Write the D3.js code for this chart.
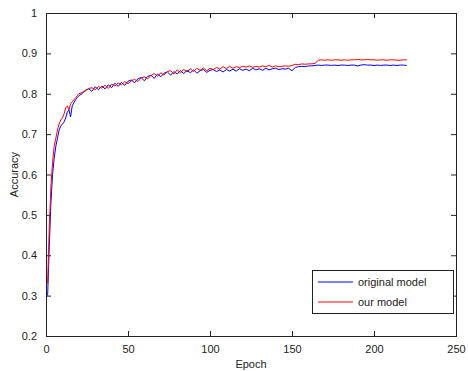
<!DOCTYPE html>
<html>
<head>
<meta charset="utf-8">
<script src="https://cdn.jsdelivr.net/npm/d3@7"></script>
<style>
  body { margin: 0; background: #fff; }
  svg text { font-family: "Liberation Sans", Arial, sans-serif; font-size: 11px; fill: #222; }
</style>
</head>
<body>
<div id="chart"></div>
<script>
// epochs sampled from the figure
const epochs = [
  1, 2, 3, 4, 5, 6, 7, 8, 9, 10, 11, 12, 13, 14, 15, 16, 17, 18, 19, 20,
  22, 24, 26, 28, 30, 32, 34, 36, 38, 40,
  42, 44, 46, 48, 50, 52, 54, 56, 58, 60,
  62, 64, 66, 68, 70, 72, 74, 76, 78, 80,
  82, 84, 86, 88, 90, 92, 94, 96, 98, 100,
  102, 104, 106, 108, 110, 112, 114, 116, 118, 120,
  122, 124, 126, 128, 130, 132, 134, 136, 138, 140,
  142, 144, 146, 148, 150, 152, 154, 156, 158, 160,
  162, 164, 166, 168, 170, 172, 174, 176, 178, 180,
  182, 184, 186, 188, 190, 192, 194, 196, 198, 200,
  202, 204, 206, 208, 210, 212, 214, 216, 218, 220
];

const originalModel = [
  0.300, 0.420, 0.530, 0.600, 0.640, 0.670, 0.690, 0.710, 0.720, 0.725,
  0.730, 0.740, 0.755, 0.760, 0.743, 0.770, 0.778, 0.785, 0.790, 0.795,
  0.800, 0.809, 0.812, 0.806, 0.817, 0.810, 0.819, 0.812, 0.822, 0.815,
  0.826, 0.818, 0.828, 0.821, 0.831, 0.834, 0.827, 0.837, 0.840, 0.832,
  0.843, 0.846, 0.838, 0.849, 0.842, 0.851, 0.854, 0.846, 0.855, 0.849,
  0.857, 0.850, 0.858, 0.852, 0.859, 0.851, 0.857, 0.860, 0.853, 0.858,
  0.860, 0.855, 0.859, 0.854, 0.860, 0.856, 0.861, 0.856, 0.862, 0.858,
  0.861, 0.857, 0.863, 0.859, 0.862, 0.858, 0.863, 0.859, 0.862, 0.863,
  0.860, 0.862, 0.861, 0.863, 0.857, 0.865, 0.867, 0.868, 0.867, 0.869,
  0.869, 0.870, 0.871, 0.870, 0.871, 0.871, 0.870, 0.871, 0.870, 0.871,
  0.871, 0.870, 0.871, 0.871, 0.869, 0.871, 0.872, 0.871, 0.871, 0.870,
  0.871, 0.870, 0.871, 0.871, 0.870, 0.871, 0.870, 0.871, 0.871, 0.870
];

const ourModel = [
  0.330, 0.470, 0.570, 0.630, 0.670, 0.690, 0.710, 0.725, 0.735, 0.740,
  0.750, 0.765, 0.770, 0.760, 0.775, 0.780, 0.785, 0.790, 0.795, 0.800,
  0.803, 0.807, 0.813, 0.815, 0.810, 0.818, 0.814, 0.821, 0.813, 0.824,
  0.819, 0.827, 0.822, 0.830, 0.825, 0.832, 0.836, 0.830, 0.839, 0.842,
  0.837, 0.845, 0.850, 0.843, 0.852, 0.846, 0.855, 0.857, 0.849, 0.859,
  0.852, 0.860, 0.854, 0.862, 0.855, 0.863, 0.858, 0.864, 0.857, 0.863,
  0.860, 0.865, 0.861, 0.867, 0.862, 0.868, 0.863, 0.867, 0.865, 0.868,
  0.866, 0.869, 0.865, 0.868, 0.866, 0.869, 0.867, 0.870, 0.866, 0.869,
  0.867, 0.868, 0.869, 0.868, 0.870, 0.873, 0.872, 0.874, 0.873, 0.874,
  0.874, 0.875, 0.883, 0.884, 0.883, 0.884, 0.883, 0.884, 0.884, 0.883,
  0.884, 0.883, 0.884, 0.884, 0.885, 0.884, 0.884, 0.885, 0.884, 0.884,
  0.883, 0.884, 0.884, 0.883, 0.884, 0.884, 0.883, 0.883, 0.884, 0.884
];

const xTicks = [0, 50, 100, 150, 200, 250];
const yTicks = [0.2, 0.3, 0.4, 0.5, 0.6, 0.7, 0.8, 0.9, 1];
const seriesNames = ['original model', 'our model'];
const seriesColors = ['#0000ff', '#ff0000'];

const W = 468, H = 371;
const margin = { left: 46, right: 12, top: 13, bottom: 35 };
const width = W - margin.left - margin.right;
const height = H - margin.top - margin.bottom;

const svg = d3.select('#chart').append('svg')
  .attr('width', W)
  .attr('height', H);

const chart = svg.append('g')
  .attr('transform', `translate(${margin.left},${margin.top})`);

const xScale = d3.scaleLinear().domain([0, 250]).range([0, width]);
const yScale = d3.scaleLinear().domain([0.2, 1]).range([height, 0]);

const fmt = d => d3.format('')(+d.toFixed(1));

// axes, ticks pointing inward like matlab
const styleAxis = g => {
  g.select('.domain').remove();
  g.selectAll('line').attr('stroke', '#222');
};

chart.append('g')
  .attr('transform', `translate(0,${height})`)
  .call(d3.axisBottom(xScale).tickValues(xTicks).tickSize(-5).tickPadding(9))
  .call(styleAxis)
  .call(g => g.selectAll('text').attr('fill', '#222').style('font-size', '11px'));

chart.append('g')
  .call(d3.axisTop(xScale).tickValues(xTicks).tickSize(-5).tickFormat(''))
  .call(styleAxis);

chart.append('g')
  .call(d3.axisLeft(yScale).tickValues(yTicks).tickSize(-5).tickPadding(9).tickFormat(fmt))
  .call(styleAxis)
  .call(g => g.selectAll('text').attr('fill', '#222').style('font-size', '11px'));

chart.append('g')
  .attr('transform', `translate(${width},0)`)
  .call(d3.axisRight(yScale).tickValues(yTicks).tickSize(-5).tickFormat(''))
  .call(styleAxis);

// box
chart.append('rect')
  .attr('width', width)
  .attr('height', height)
  .attr('fill', 'none')
  .attr('stroke', '#222')
  .attr('stroke-width', 1)
  .attr('shape-rendering', 'crispEdges');

const line = d3.line()
  .x((d, i) => xScale(epochs[i]))
  .y(d => yScale(d));

[originalModel, ourModel].forEach((vals, k) => {
  chart.append('path')
    .datum(vals)
    .attr('fill', 'none')
    .attr('stroke', seriesColors[k])
    .attr('stroke-width', 1)
    .attr('d', line);
});

// labels
svg.append('text')
  .attr('x', margin.left + width / 2)
  .attr('y', 368)
  .attr('text-anchor', 'middle')
  .text('Epoch');

svg.append('text')
  .attr('transform', `translate(18,${margin.top + height / 2}) rotate(-90)`)
  .attr('text-anchor', 'middle')
  .text('Accuracy');

// legend
const legend = svg.append('g').attr('transform', 'translate(312,270)');
legend.append('rect')
  .attr('width', 141)
  .attr('height', 43)
  .attr('fill', '#fff')
  .attr('stroke', '#222')
  .attr('shape-rendering', 'crispEdges');

seriesNames.forEach((name, k) => {
  const y = 12 + k * 20;
  legend.append('line')
    .attr('x1', 6).attr('x2', 41)
    .attr('y1', y).attr('y2', y)
    .attr('stroke', seriesColors[k]);
  legend.append('text')
    .attr('x', 46)
    .attr('y', y + 4)
    .text(name);
});
</script>
</body>
</html>
